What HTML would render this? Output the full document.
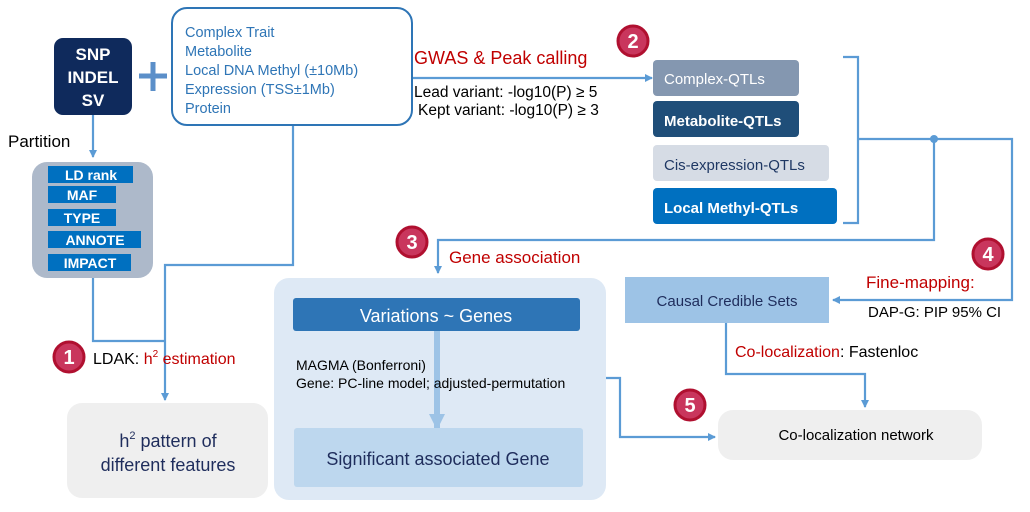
<!DOCTYPE html>
<html><head><meta charset="utf-8"><style>
body{margin:0;background:#fff;}
svg{display:block;font-family:"Liberation Sans",sans-serif;}
</style></head><body>
<svg width="1030" height="512" viewBox="0 0 1030 512" xmlns="http://www.w3.org/2000/svg">
<defs>
<marker id="a" markerWidth="8" markerHeight="8" refX="7" refY="4" orient="auto" markerUnits="userSpaceOnUse"><path d="M0,0 L8,4 L0,8 Z" fill="#5b9bd5"/></marker>
<marker id="b" markerWidth="16" markerHeight="16" refX="14" refY="8" orient="auto" markerUnits="userSpaceOnUse"><path d="M0,0 L16,8 L0,16 Z" fill="#9dc3e6"/></marker>
</defs>
<rect x="274" y="278" width="332" height="222" rx="15" fill="#dee9f5"/>
<rect x="67" y="403" width="201" height="95" rx="15" fill="#efefef"/>
<rect x="718" y="410" width="264" height="50" rx="15" fill="#efefef"/>

<g stroke="#5b9bd5" stroke-width="2.2" fill="none">
<path d="M93 115 V157" marker-end="url(#a)"/>
<path d="M93 278 V341 H165"/>
<path d="M293 125 V265 H165 V400" marker-end="url(#a)"/>
<path d="M412 78 H652" marker-end="url(#a)"/>
<path d="M843 57 H858 V223 H843 M858 139 H1012 V300 H833" marker-end="url(#a)"/>
<path d="M934 139 V240 H438 V273" marker-end="url(#a)"/>
<path d="M726 323 V374 H865 V407" marker-end="url(#a)"/>
<path d="M606 378 H620 V437 H715" marker-end="url(#a)"/>
</g>
<circle cx="934" cy="139" r="4" fill="#5b9bd5"/>
<path d="M437 331 V428" stroke="#9dc3e6" stroke-width="6" marker-end="url(#b)"/>

<rect x="54" y="38" width="78" height="77" rx="9" fill="#0f2a5c"/>
<g fill="#fff" font-weight="bold" font-size="17" text-anchor="middle">
<text x="93" y="60">SNP</text><text x="93" y="83">INDEL</text><text x="93" y="106">SV</text></g>
<path d="M139 76 H167 M153 62 V91" stroke="#5b8fc9" stroke-width="5"/>
<rect x="172" y="8" width="240" height="117" rx="15" fill="#fff" stroke="#2e75b6" stroke-width="2"/>
<g fill="#2e75b6" font-size="14.5">
<text x="185" y="37">Complex Trait</text><text x="185" y="56">Metabolite</text>
<text x="185" y="75">Local DNA Methyl (±10Mb)</text><text x="185" y="94">Expression (TSS±1Mb)</text>
<text x="185" y="113">Protein</text></g>
<text x="8" y="147" font-size="17">Partition</text>
<rect x="32" y="162" width="121" height="116" rx="15" fill="#adb9ca"/>
<g fill="#0070c0">
<rect x="48" y="166" width="85" height="17"/><rect x="48" y="186" width="68" height="17"/>
<rect x="48" y="209" width="68" height="17"/><rect x="48" y="231" width="93" height="17"/>
<rect x="48" y="254" width="83" height="17"/></g>
<g fill="#fff" font-weight="bold" font-size="14" text-anchor="middle">
<text x="91" y="180">LD rank</text><text x="82" y="200">MAF</text><text x="82" y="223">TYPE</text>
<text x="95" y="245">ANNOTE</text><text x="90" y="268">IMPACT</text></g>

<text x="414" y="64" font-size="18" fill="#c00000">GWAS &amp; Peak calling</text>
<text x="414" y="97" font-size="15.5">Lead variant: -log10(P) ≥ 5</text>
<text x="418" y="115" font-size="15.5">Kept variant: -log10(P) ≥ 3</text>
<rect x="653" y="60" width="146" height="36" rx="4" fill="#8497b0"/>
<rect x="653" y="101" width="146" height="36" rx="4" fill="#1f4e79"/>
<rect x="653" y="145" width="176" height="36" rx="4" fill="#d6dce5"/>
<rect x="653" y="188" width="184" height="36" rx="4" fill="#0070c0"/>
<text x="664" y="84" fill="#fff" font-size="15">Complex-QTLs</text>
<text x="664" y="126" fill="#fff" font-size="15" font-weight="bold">Metabolite-QTLs</text>
<text x="664" y="170" fill="#1f3864" font-size="15">Cis-expression-QTLs</text>
<text x="664" y="213" fill="#fff" font-size="15" font-weight="bold">Local Methyl-QTLs</text>

<text x="449" y="263" font-size="17" fill="#c00000">Gene association</text>
<rect x="293" y="298" width="287" height="33" rx="3" fill="#2e75b6"/>
<text x="436" y="322" font-size="18" fill="#fff" text-anchor="middle">Variations ~ Genes</text>
<text x="296" y="370" font-size="14">MAGMA (Bonferroni)</text>
<text x="296" y="388" font-size="14">Gene: PC-line model; adjusted-permutation</text>
<rect x="294" y="428" width="289" height="59" rx="3" fill="#bdd7ee"/>
<text x="438" y="465" font-size="18" fill="#1f2d5c" text-anchor="middle">Significant associated Gene</text>

<text x="93" y="364" font-size="16">LDAK: <tspan fill="#c00000">h</tspan><tspan fill="#c00000" font-size="10" dy="-7">2</tspan><tspan fill="#c00000" dy="7"> estimation</tspan></text>
<text x="168" y="447" font-size="18" fill="#1f2d5c" text-anchor="middle">h<tspan font-size="11" dy="-8">2</tspan><tspan dy="8"> pattern of</tspan></text>
<text x="168" y="471" font-size="18" fill="#1f2d5c" text-anchor="middle">different features</text>

<rect x="625" y="277" width="204" height="46" fill="#9dc3e6"/>
<text x="727" y="306" font-size="15" fill="#1f2d5c" text-anchor="middle">Causal Credible Sets</text>
<text x="866" y="288" font-size="17" fill="#c00000">Fine-mapping:</text>
<text x="868" y="317" font-size="15">DAP-G: PIP 95% CI</text>
<text x="735" y="357" font-size="16"><tspan fill="#c00000">Co-localization</tspan>: Fastenloc</text>
<text x="856" y="440" font-size="15" text-anchor="middle">Co-localization network</text>

<g stroke="#b01030" stroke-width="3" fill="#c9365d">
<circle cx="69" cy="357" r="15"/><circle cx="633" cy="41" r="15"/><circle cx="412" cy="242" r="15"/>
<circle cx="988" cy="254" r="15"/><circle cx="690" cy="405" r="15"/></g>
<g fill="#fff" font-size="20" font-weight="bold" text-anchor="middle">
<text x="69" y="364">1</text><text x="633" y="48">2</text><text x="412" y="249">3</text>
<text x="988" y="261">4</text><text x="690" y="412">5</text></g>
</svg>
</body></html>
